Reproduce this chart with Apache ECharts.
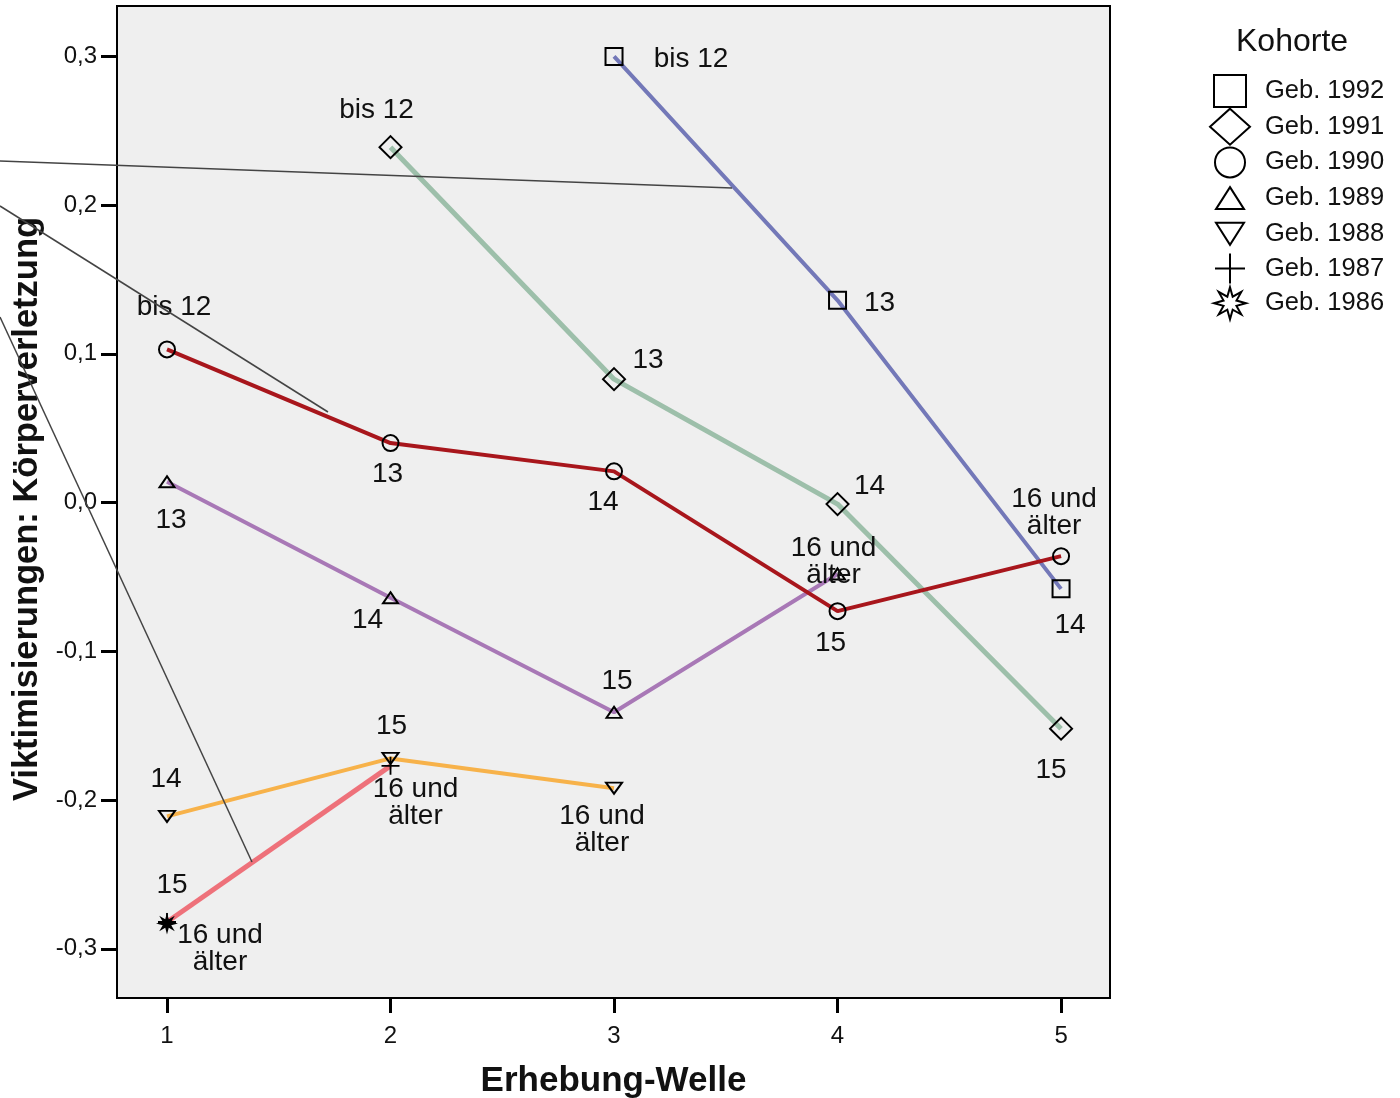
<!DOCTYPE html>
<html>
<head>
<meta charset="utf-8">
<script src="https://cdn.jsdelivr.net/npm/echarts@6/dist/echarts.min.js"></script>
<style>
html,body{margin:0;padding:0;background:#fff;}
#chart{width:1400px;height:1098px;}
</style>
</head>
<body>
<div id="chart"></div>
<script>
// ---- data ----
const waves = [1, 2, 3, 4, 5];
const cohorts = ['Geb. 1992', 'Geb. 1991', 'Geb. 1990', 'Geb. 1989', 'Geb. 1988', 'Geb. 1987', 'Geb. 1986'];
const yTicks = [-0.3, -0.2, -0.1, 0.0, 0.1, 0.2, 0.3];

const v1992 = [null, null, 0.300, 0.136, -0.058];
const v1991 = [null, 0.239, 0.083, -0.001, -0.152];
const v1990 = [0.103, 0.040, 0.021, -0.073, -0.036];
const v1989 = [0.014, -0.064, -0.141, -0.048, null];
const v1988 = [-0.211, -0.172, -0.192, null, null];
const v1987 = [-0.282, -0.177, null, null, null];
const v1986 = [-0.283, null, null, null, null];

const age1992 = [null, null, 'bis 12', '13', '14'];
const age1991 = [null, 'bis 12', '13', '14', '15'];
const age1990 = ['bis 12', '13', '14', '15', '16 und\nälter'];
const age1989 = ['13', '14', '15', '16 und\nälter', null];
const age1988 = ['14', '15', '16 und\nälter', null, null];
const age1987 = ['15', '16 und\nälter', null, null, null];
const age1986 = ['16 und\nälter', null, null, null, null];

// label offsets (style only, pixels from marker centre)
const off1992 = [null, null, [77, 3], [42, 3], [9, 36]];
const off1991 = [null, [-14, -37], [34, -19], [32, -18], [-10, 42]];
const off1990 = [[7, -42], [-3, 31], [-11, 31], [-7, 32], [-7, -43]];
const off1989 = [[4, 39], [-23, 23], [3, -31], [-4, -12], null];
const off1988 = [[-1, -37], [1, -32], [-12, 42], null, null];
const off1987 = [[5, -37], [25, 37], null, null, null];
const off1986 = [[53, 25], null, null, null, null];

// ---- helpers ----
function build(vals, ages, offs) {
  const out = [];
  waves.forEach((w, i) => {
    if (vals[i] === null) return;
    out.push({ value: [w, vals[i]], lbl: ages[i], label: { offset: offs[i] } });
  });
  return out;
}
function starPts(cx, cy, ro, ri) {
  let d = '';
  const n = 8;
  for (let k = 0; k < n * 2; k++) {
    const r = k % 2 === 0 ? ro : ri;
    const a = Math.PI * k / n - Math.PI / 2;
    d += (k === 0 ? 'M' : 'L') + (cx + r * Math.cos(a)).toFixed(2) + ',' + (cy + r * Math.sin(a)).toFixed(2);
  }
  return d + 'Z';
}
const STAR = 'path://' + starPts(10, 10, 10, 4.2);
const PLUS = 'path://M9,0H11V9H20V11H11V20H9V11H0V9H9Z';
const DOWN = 'path://M0,0L20,0L10,17Z';
const UP = 'path://M10,0L20,17L0,17Z';

// legend icons drawn in a 44x36 frame (degenerate corner points fix the frame)
const FRAME = 'M0,0L0,0M44,36L44,36';
const L_SQUARE = 'path://' + FRAME + 'M6,2H38V34H6Z';
const L_DIAMOND = 'path://' + FRAME + 'M22,0L42,18L22,36L2,18Z';
const L_CIRCLE = 'path://' + FRAME + 'M7,18A15,15 0 1,0 37,18A15,15 0 1,0 7,18Z';
const L_UP = 'path://' + FRAME + 'M22,7L36,29L8,29Z';
const L_DOWN = 'path://' + FRAME + 'M8,7L36,7L22,29Z';
const L_PLUS = 'path://' + FRAME + 'M21,3H23V17H37V19H23V33H21V19H7V17H21Z';
const L_STAR = 'path://' + FRAME + starPts(22, 18, 16, 7);

const outline = { color: 'rgba(0,0,0,0)', borderColor: '#000', borderWidth: 2 };
const FONT = '"Liberation Sans", Arial, sans-serif';

function mk(name, data, sym, size, lineColor, width, extra) {
  return Object.assign({
    name: name,
    type: 'line',
    data: data,
    symbol: sym,
    symbolSize: size,
    symbolKeepAspect: true,
    showSymbol: true,
    lineStyle: { color: lineColor, width: width },
    itemStyle: Object.assign({}, outline),
    label: {
      show: true,
      position: 'inside',
      align: 'center',
      verticalAlign: 'middle',
      formatter: p => p.data.lbl,
      fontFamily: FONT,
      fontSize: 28,
      lineHeight: 27,
      color: '#111'
    },
    emphasis: { disabled: true },
    animation: false
  }, extra || {});
}

const series = [
  mk('Geb. 1992', build(v1992, age1992, off1992), 'rect', 17, '#7378b8', 4, { z: 3 }),
  mk('Geb. 1991', build(v1991, age1991, off1991), 'diamond', [22, 22], '#9dbfaa', 5, { z: 2 }),
  mk('Geb. 1990', build(v1990, age1990, off1990), 'circle', 16, '#a8161c', 4, { z: 5 }),
  mk('Geb. 1989', build(v1989, age1989, off1989), UP, [15, 13], '#a878b6', 4, { z: 4 }),
  mk('Geb. 1988', build(v1988, age1988, off1988), DOWN, [16, 13], '#f7b24a', 4, { z: 4 }),
  mk('Geb. 1987', build(v1987, age1987, off1987), PLUS, 18, '#ee717a', 5,
     { z: 4, itemStyle: { color: '#000', borderWidth: 0 } }),
  mk('Geb. 1986', build(v1986, age1986, off1986), STAR, 22, '#000', 4,
     { z: 6, itemStyle: { color: '#000', borderWidth: 0 } })
];

const legendIcons = [L_SQUARE, L_DIAMOND, L_CIRCLE, L_UP, L_DOWN, L_PLUS, L_STAR];
const legendData = cohorts.map((c, i) => ({
  name: c,
  icon: legendIcons[i],
  itemStyle: i === 5
    ? { color: '#000', borderWidth: 0 }
    : { color: '#fff', borderColor: '#000', borderWidth: 2 }
}));

const fmt = v => (Math.abs(v) < 1e-9 ? 0 : v).toFixed(1).replace('.', ',');

const chart = echarts.init(document.getElementById('chart'), null, { renderer: 'canvas' });
chart.setOption({
  backgroundColor: '#ffffff',
  animation: false,
  textStyle: { fontFamily: FONT },
  grid: {
    left: 117, top: 6, width: 993, height: 992,
    outerBoundsMode: 'none',
    containLabel: false,
    show: true, backgroundColor: '#efefef', borderColor: '#000', borderWidth: 2
  },
  title: {
    text: 'Kohorte',
    left: 1231, top: 21,
    textStyle: { fontFamily: FONT, fontSize: 32, fontWeight: 'normal', color: '#111' }
  },
  legend: {
    data: legendData,
    orient: 'vertical',
    left: 1202, top: 67,
    itemWidth: 44, itemHeight: 36, itemGap: -2.3,
    selectedMode: false,
    textStyle: { fontFamily: FONT, fontSize: 25.5, lineHeight: 26, color: '#111', padding: [0, 0, 0, 8] }
  },
  xAxis: {
    type: 'value',
    min: 0.7763, max: 5.219,
    name: 'Erhebung-Welle',
    nameLocation: 'middle',
    nameGap: 66,
    nameTextStyle: { fontFamily: FONT, fontSize: 35, fontWeight: 'bold', color: '#111' },
    axisLine: { show: true, onZero: false, lineStyle: { color: '#000', width: 2 } },
    axisTick: { show: true, customValues: waves, length: 15, lineStyle: { color: '#000', width: 3 } },
    axisLabel: { customValues: waves, margin: 26, fontFamily: FONT, fontSize: 24, color: '#111' },
    splitLine: { show: false }
  },
  yAxis: {
    type: 'value',
    min: -0.3331, max: 0.3339,
    name: 'Viktimisierungen: Körperverletzung',
    nameLocation: 'middle',
    nameGap: 64,
    nameTextStyle: { fontFamily: FONT, fontSize: 34.5, fontWeight: 'bold', color: '#111', padding: [0, 14, 0, 0] },
    axisLine: { show: true, onZero: false, lineStyle: { color: '#000', width: 2 } },
    axisTick: { show: true, customValues: yTicks, length: 16, lineStyle: { color: '#000', width: 3 } },
    axisLabel: { customValues: yTicks, margin: 20, fontFamily: FONT, fontSize: 24, color: '#111', formatter: fmt },
    splitLine: { show: false }
  },
  series: series,
  graphic: [
    { type: 'line', shape: { x1: 0, y1: 161, x2: 732, y2: 188 }, style: { stroke: '#444', lineWidth: 1.5 }, z: 100 },
    { type: 'line', shape: { x1: 0, y1: 206, x2: 328, y2: 412 }, style: { stroke: '#444', lineWidth: 1.5 }, z: 100 },
    { type: 'line', shape: { x1: 0, y1: 317, x2: 252, y2: 862 }, style: { stroke: '#444', lineWidth: 1.5 }, z: 100 }
  ]
});
</script>
</body>
</html>
